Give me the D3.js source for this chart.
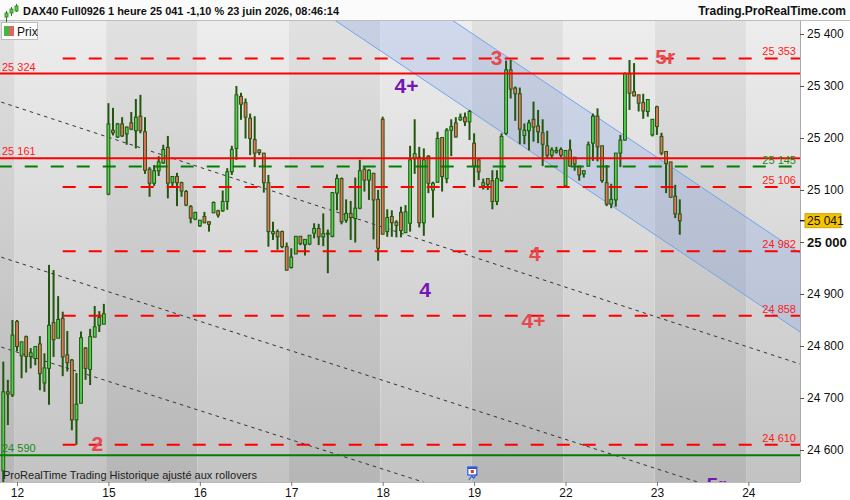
<!DOCTYPE html>
<html>
<head>
<meta charset="utf-8">
<script src="https://cdn.jsdelivr.net/npm/d3@7"></script>
<style>
body { margin: 0; background: #fff; font-family: "Liberation Sans", Arial, sans-serif; }
svg { display: block; }
</style>
</head>
<body>
<div id="chart"></div>
<script>
// hourly bars, index 0 = first bar of the 12th, 20 bars a day
const firstIndex = -3
const opens = [24560, 24712, 24706,
  24847, 24781, 24818, 24780, 24776, 24804, 24729, 24757, 24845, 24815, 24853, 24783, 24773, 24658, 24690, 24796, 24755, 24817, 24840, 24842,
  25092, 25215, 25202, 25227, 25208, 25229, 25214, 25242, 25212, 25140, 25113, 25137, 25152, 25182, 25114, 25126, 25114, 25097, 25068, 25044,
  25031, 25049, 25039, 25056, 25060, 25060, 25078, 25135, 25180, 25280, 25268, 25238, 25197, 25177, 25171, 25114, 25016, 25020, 25020, 24991,
  24951, 24977, 25011, 24995, 24996, 25017, 25026, 25010, 25017, 25011, 25094, 25122, 25042, 25055, 25045, 25065, 25140, 25119, 25132, 25082,
  25236, 25020, 25049, 25038, 25057, 25018, 25036, 25160, 25163, 25037, 25165, 25100, 25115, 25201, 25122, 25215, 25229, 25235, 25240, 25231,
  25190, 25158, 25108, 25122, 25118, 25078, 25118, 25209, 25331, 25296, 25285, 25205, 25214, 25236, 25223, 25210, 25185, 25167, 25173, 25178,
  25108, 25177, 25163, 25146, 25131, 25146, 25190, 25242, 25185, 25114, 25073, 25081, 25171, 25196, 25324, 25289, 25283, 25268, 25251, 25206,
  25260, 25203, 25174, 25154, 25088, 25054]
const highs = [24770, 24735, 24850,
  24850, 24808, 24820, 24796, 24799, 24819, 24786, 24956, 24946, 24896, 24866, 24829, 24775, 24748, 24828, 24798, 24833, 24877, 24867, 24881,
  25267, 25258, 25229, 25240, 25222, 25250, 25275, 25283, 25240, 25144, 25148, 25165, 25187, 25204, 25126, 25133, 25116, 25100, 25071, 25058,
  25042, 25058, 25039, 25078, 25062, 25099, 25142, 25185, 25300, 25287, 25276, 25247, 25242, 25178, 25171, 25129, 25039, 25024, 25022, 24999,
  24988, 25011, 25011, 25005, 25013, 25036, 25035, 25055, 25024, 25095, 25130, 25124, 25082, 25079, 25124, 25158, 25146, 25140, 25133, 25100,
  25241, 25063, 25061, 25042, 25068, 25071, 25185, 25236, 25183, 25180, 25167, 25116, 25212, 25202, 25219, 25236, 25240, 25247, 25249, 25254,
  25209, 25159, 25122, 25122, 25138, 25138, 25209, 25349, 25350, 25299, 25297, 25228, 25235, 25270, 25254, 25236, 25214, 25182, 25183, 25182,
  25176, 25197, 25163, 25146, 25138, 25193, 25247, 25257, 25185, 25148, 25112, 25171, 25206, 25326, 25350, 25344, 25283, 25285, 25274, 25236,
  25262, 25210, 25174, 25154, 25110, 25082]
const lows = [24480, 24648, 24702,
  24790, 24738, 24749, 24757, 24763, 24715, 24712, 24687, 24779, 24815, 24742, 24751, 24638, 24610, 24690, 24735, 24725, 24817, 24827, 24842,
  25090, 25205, 25200, 25202, 25187, 25215, 25180, 25209, 25131, 25087, 25108, 25127, 25150, 25084, 25105, 25069, 25087, 25069, 25036, 25042,
  25029, 25036, 25020, 25056, 25047, 25058, 25062, 25129, 25158, 25235, 25199, 25167, 25144, 25167, 25095, 24991, 25004, 24985, 24988, 24945,
  24949, 24977, 24994, 24974, 24994, 25007, 24994, 24992, 24940, 25009, 25061, 25034, 25037, 25004, 24999, 25063, 25097, 25081, 25005, 24964,
  25015, 25010, 25010, 25009, 25009, 25017, 25020, 25131, 25028, 25012, 25094, 25047, 25114, 25097, 25113, 25165, 25201, 25233, 25223, 25196,
  25106, 25119, 25101, 25100, 25063, 25071, 25116, 25206, 25276, 25233, 25188, 25188, 25176, 25193, 25190, 25146, 25161, 25161, 25170, 25163,
  25106, 25145, 25137, 25118, 25124, 25145, 25156, 25155, 25114, 25069, 25065, 25068, 25144, 25195, 25254, 25280, 25251, 25237, 25241, 25203,
  25206, 25167, 25094, 25086, 25046, 25014]
const closes = [24712, 24708, 24821,
  24799, 24808, 24780, 24787, 24799, 24747, 24758, 24840, 24812, 24851, 24779, 24768, 24658, 24688, 24816, 24757, 24818, 24837, 24855, 24862,
  25227, 25210, 25227, 25204, 25221, 25217, 25240, 25214, 25138, 25113, 25137, 25154, 25178, 25113, 25126, 25114, 25098, 25071, 25046, 25057,
  25042, 25037, 25034, 25076, 25052, 25078, 25135, 25178, 25283, 25265, 25240, 25199, 25171, 25172, 25114, 25020, 25020, 25010, 24991, 24946,
  24971, 25011, 24997, 25005, 25013, 25026, 25010, 25016, 25015, 25095, 25122, 25039, 25055, 25047, 25065, 25137, 25119, 25138, 25081, 24988,
  25015, 25047, 25037, 25032, 25022, 25058, 25158, 25170, 25037, 25158, 25113, 25113, 25199, 25126, 25215, 25222, 25202, 25240, 25231, 25251,
  25146, 25135, 25114, 25111, 25078, 25122, 25203, 25331, 25294, 25285, 25217, 25215, 25229, 25221, 25212, 25188, 25167, 25177, 25176, 25167,
  25176, 25146, 25150, 25129, 25137, 25187, 25242, 25183, 25118, 25073, 25082, 25171, 25196, 25324, 25286, 25281, 25267, 25252, 25274, 25236,
  25222, 25171, 25151, 25086, 25054, 25041]

const dayLabels = ["12", "15", "16", "17", "18", "19", "22", "23", "24"]
const dayStarts = [0, 20, 40, 60, 80, 100, 120, 140, 160]
const priceTicks = [24600, 24700, 24800, 24900, 25000, 25100, 25200, 25300, 25400]
const lastPrice = 25041

// horizontal levels drawn on the chart
const levelValues = [25353, 25324, 25161, 25145, 25106, 24982, 24858, 24610, 24590]
const levelKinds = ["redDash", "redSolid", "redSolid", "greenDash", "redDash", "redDash", "redDash", "redDash", "greenSolid"]
const levelFrom = [10, -4, -4, -4, 10, 10, 10, 10, -4]

// trend lines: [index, price] pairs
const channelLow = [[60, 25482.5], [175, 24805.4]]
const channelHigh = [[60, 25633.9], [175, 24956.8]]
const trendA = [[-5, 25273.5], [175, 24754.7]]
const trendB = [[-5, 24975.3], [175, 24464.4]]
const trendC = [[-5, 24802.3], [175, 24296.3]]

// wave labels
const waveTexts = ["3", "5r", "4+", "4", "4", "4+", "2", "5r"]
const waveIndex = [104.9, 141.8, 85.2, 113.3, 89.3, 113, 17.6, 153]
const wavePrice = [25355, 25356, 25301, 24978, 24908, 24849, 24613, 24534]
const waveColor = ["red", "red", "purple", "red", "purple", "red", "red", "purple"]

const W = 850, H = 500
const plot = { left: 0, right: 800, top: 21, bottom: 482 }

const fmt = d => d3.format(",")(d).replace(",", " ")

const svg = d3.select("#chart").append("svg")
    .attr("width", W).attr("height", H)
    .style("font-family", '"Liberation Sans", Arial, sans-serif')

const x = d3.scaleLinear().domain([-3.72, 171.3]).range([plot.left, plot.right])
const y = d3.scaleLinear().domain([24538.5, 25425]).range([plot.bottom, plot.top])

const defs = svg.append("defs")
defs.append("clipPath").attr("id", "clip")
    .append("rect").attr("x", plot.left).attr("y", plot.top)
    .attr("width", plot.right - plot.left).attr("height", plot.bottom - plot.top)

const grads = [["bandLight", "#ededed", "#c3c3c3"], ["bandDark", "#e1e1e1", "#b6b6b6"]]
grads.forEach(g => {
    const lg = defs.append("linearGradient").attr("id", g[0])
        .attr("x1", 0).attr("y1", 0).attr("x2", 0).attr("y2", 1)
    lg.append("stop").attr("offset", "0%").attr("stop-color", g[1])
    lg.append("stop").attr("offset", "100%").attr("stop-color", g[2])
})

const body = svg.append("g").attr("clip-path", "url(#clip)")

// day bands, alternate shading
const bandStarts = [-20].concat(dayStarts)
body.selectAll("rect.band")
    .data(bandStarts)
    .enter().append("rect")
    .attr("class", "band")
    .attr("x", d => x(d - 0.5))
    .attr("y", plot.top)
    .attr("width", x(20) - x(0))
    .attr("height", plot.bottom - plot.top)
    .attr("fill", (d, i) => i % 2 === 0 ? "url(#bandDark)" : "url(#bandLight)")

// channel
const poly = channelLow.concat(channelHigh.slice().reverse())
body.append("path")
    .attr("d", "M" + poly.map(p => `${x(p[0])},${y(p[1])}`).join("L") + "Z")
    .attr("fill", "rgba(110,150,235,0.22)")

const line = d3.line().x(d => x(d[0])).y(d => y(d[1]))
;[channelLow, channelHigh].forEach(l => {
    body.append("path").attr("d", line(l))
        .attr("fill", "none").attr("stroke", "#74a3ef").attr("stroke-width", 1)
})
;[trendA, trendB, trendC].forEach(l => {
    body.append("path").attr("d", line(l))
        .attr("fill", "none").attr("stroke", "#333").attr("stroke-width", 1)
        .attr("stroke-dasharray", "3.5,4")
})

// candles
const bars = d3.range(opens.length).map(k => ({
    i: k + firstIndex, o: opens[k], h: highs[k], l: lows[k], c: closes[k]
}))
const bw = (x(1) - x(0)) * 0.62
const candles = body.append("g")
candles.selectAll("line.wick")
    .data(bars).enter().append("line")
    .attr("x1", d => x(d.i)).attr("x2", d => x(d.i))
    .attr("y1", d => y(d.h)).attr("y2", d => y(d.l))
    .attr("stroke", "#23560f").attr("stroke-width", 2)
candles.selectAll("rect.body")
    .data(bars).enter().append("rect")
    .attr("x", d => x(d.i) - bw / 2)
    .attr("y", d => y(Math.max(d.o, d.c)))
    .attr("width", bw)
    .attr("height", d => Math.max(1, Math.abs(y(d.o) - y(d.c))))
    .attr("fill", d => d.c >= d.o ? "#4fd34f" : "#e8725c")
    .attr("stroke", "#23560f").attr("stroke-width", 1)

// horizontal levels
const kindStyle = {
    redDash: { c: "#ff0000", dash: "13,13" },
    redSolid: { c: "#ff0000", dash: null },
    greenDash: { c: "#008000", dash: "13,13" },
    greenSolid: { c: "#008000", dash: null }
}
levelValues.forEach((v, k) => {
    const st = kindStyle[levelKinds[k]]
    body.append("line")
        .attr("x1", x(levelFrom[k])).attr("x2", plot.right)
        .attr("y1", y(v)).attr("y2", y(v))
        .attr("stroke", st.c).attr("stroke-width", 2)
        .attr("stroke-dasharray", st.dash)
    const onLeft = levelKinds[k].endsWith("Solid")
    body.append("text")
        .attr("x", onLeft ? 2 : 796)
        .attr("y", y(v) - 3)
        .attr("text-anchor", onLeft ? "start" : "end")
        .attr("font-size", 11)
        .attr("fill", st.c === "#ff0000" ? "#ff1a1a" : "#1a8a1a")
        .text(fmt(v))
})

// wave labels
body.selectAll("text.wave")
    .data(waveTexts).enter().append("text")
    .attr("class", "wave")
    .attr("x", (d, k) => x(waveIndex[k]))
    .attr("y", (d, k) => y(wavePrice[k]))
    .attr("dy", "0.35em")
    .attr("text-anchor", "middle")
    .attr("font-size", 21).attr("font-weight", "bold")
    .attr("fill", (d, k) => waveColor[k] === "red" ? "#e8484f" : "#7417b8")
    .text(d => d)

// footer note and event icon
body.append("text").attr("x", 3).attr("y", 479)
    .attr("font-size", 11).attr("fill", "#222")
    .text("ProRealTime Trading  Historique ajusté aux rollovers")
const ev = body.append("g").attr("transform", `translate(${x(99.5)},${plot.bottom - 15})`)
ev.append("rect").attr("x", -4).attr("y", 0).attr("width", 9).attr("height", 8)
    .attr("fill", "#fff").attr("stroke", "#2a5bd7").attr("stroke-width", 1.2)
ev.append("rect").attr("x", -4).attr("y", 0).attr("width", 9).attr("height", 2).attr("fill", "#2a5bd7")
ev.append("rect").attr("x", -1).attr("y", 3).attr("width", 3).attr("height", 3).attr("fill", "#e03030")
ev.append("path").attr("d", "M-3,13 L0,9 L2,11 L5,7").attr("fill", "none")
    .attr("stroke", "#2a5bd7").attr("stroke-width", 1.2)

// frame
svg.append("line").attr("x1", plot.right + 0.5).attr("x2", plot.right + 0.5)
    .attr("y1", plot.top).attr("y2", plot.bottom).attr("stroke", "#aaa")
svg.append("line").attr("x1", 0).attr("x2", plot.right)
    .attr("y1", plot.bottom + 0.5).attr("y2", plot.bottom + 0.5).attr("stroke", "#bbb")

// right price axis
const ya = svg.append("g").attr("transform", `translate(${plot.right},0)`)
    .call(d3.axisRight(y).tickValues(priceTicks).tickFormat(fmt).tickSize(4).tickPadding(3))
ya.select(".domain").remove()
ya.selectAll(".tick line").attr("stroke", "#555")
ya.selectAll(".tick text")
    .attr("font-size", d => d === 25000 ? 13 : 12)
    .attr("font-weight", d => d === 25000 ? "bold" : "normal")
    .attr("fill", "#111")
    .style("font-family", '"Liberation Sans", Arial, sans-serif')

// last price tag
svg.append("line").attr("x1", plot.right).attr("x2", plot.right + 5)
    .attr("y1", y(lastPrice)).attr("y2", y(lastPrice)).attr("stroke", "#222").attr("stroke-width", 1.5)
svg.append("rect").attr("x", plot.right + 5).attr("y", y(lastPrice) - 7)
    .attr("width", 36).attr("height", 14)
    .attr("fill", "#f5c400").attr("stroke", "#c9a400")
svg.append("text").attr("x", plot.right + 7).attr("y", y(lastPrice) + 4.5)
    .attr("font-size", 12).attr("fill", "#111").text(fmt(lastPrice))

// bottom day axis
const xa = svg.append("g").attr("transform", `translate(0,${plot.bottom})`)
    .call(d3.axisBottom(x).tickValues(dayStarts).tickFormat((d, k) => dayLabels[k]).tickSize(4).tickPadding(2))
xa.select(".domain").remove()
xa.selectAll(".tick line").attr("stroke", "#777")
xa.selectAll(".tick text").attr("font-size", 12).attr("fill", "#111")
    .style("font-family", '"Liberation Sans", Arial, sans-serif')

// header
svg.append("rect").attr("x", 0).attr("y", 0).attr("width", W).attr("height", plot.top)
    .attr("fill", "#fbfbfb")
svg.append("line").attr("x1", 0).attr("x2", W).attr("y1", plot.top - 0.5).attr("y2", plot.top - 0.5)
    .attr("stroke", "#bdbdbd")
const icon = svg.append("g").attr("transform", "translate(5,4)")
;[[0, 7, 12, 4], [5, 3, 9, 4], [10, 0, 8, 5]].forEach(b => {
    icon.append("line").attr("x1", b[0] + 1.5).attr("x2", b[0] + 1.5)
        .attr("y1", b[1]).attr("y2", b[1] + b[2]).attr("stroke", "#2d7d12").attr("stroke-width", 1)
    icon.append("rect").attr("x", b[0]).attr("y", b[1] + 2).attr("width", 3).attr("height", b[3])
        .attr("fill", "#4fd34f").attr("stroke", "#2d7d12").attr("stroke-width", 0.8)
})
svg.append("text").attr("x", 23).attr("y", 15)
    .attr("font-size", 11.5).attr("font-weight", "bold").attr("fill", "#111")
    .attr("textLength", 316).attr("lengthAdjust", "spacingAndGlyphs")
    .text("DAX40 Full0926 1 heure 25 041 -1,10 % 23 juin 2026, 08:46:14")
svg.append("text").attr("x", 846).attr("y", 15).attr("text-anchor", "end")
    .attr("font-size", 12).attr("font-weight", "bold").attr("fill", "#111")
    .text("Trading.ProRealTime.com")

// legend box
const lg = svg.append("g").attr("transform", `translate(1,${plot.top + 1})`)
lg.append("rect").attr("x", 0.5).attr("y", 0.5).attr("width", 36).attr("height", 17)
    .attr("fill", "#fff").attr("stroke", "#bbb")
lg.append("rect").attr("x", 3).attr("y", 4).attr("width", 5).attr("height", 10).attr("fill", "#3dbb3d")
lg.append("rect").attr("x", 8).attr("y", 4).attr("width", 5).attr("height", 10).attr("fill", "#e06464")
lg.append("text").attr("x", 16).attr("y", 13.5).attr("font-size", 12).attr("fill", "#111").text("Prix")
</script>
</body>
</html>
